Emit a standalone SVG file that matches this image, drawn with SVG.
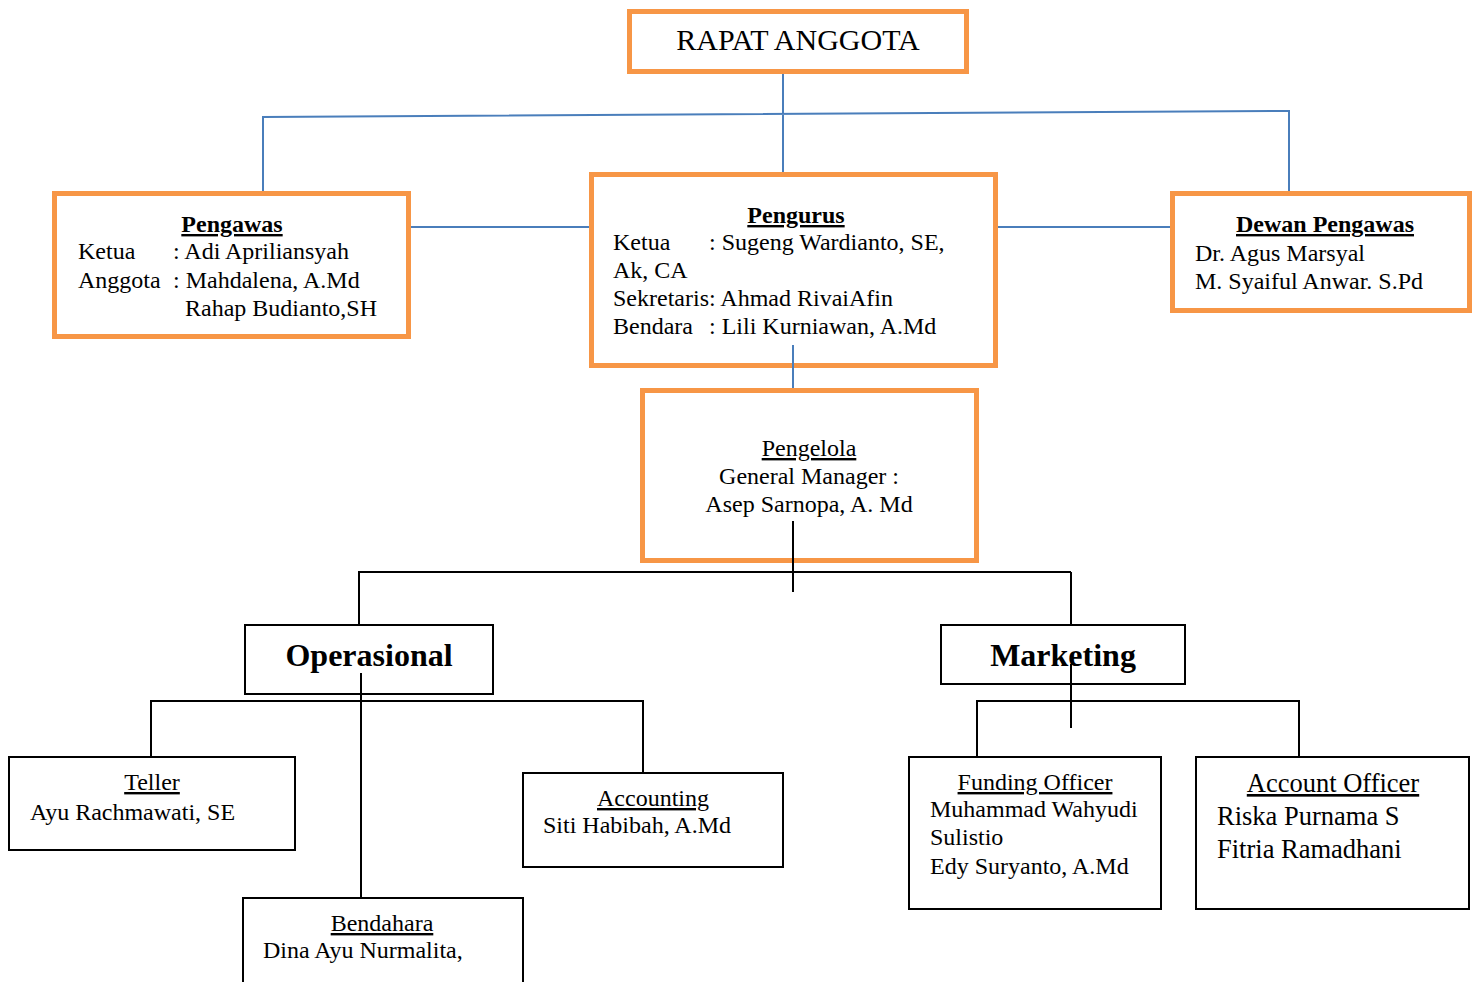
<svg xmlns="http://www.w3.org/2000/svg" width="1475" height="982" viewBox="0 0 1475 982">
<style>
text{font-family:"Liberation Serif","Times New Roman",serif;fill:#000;font-size:24px}
.ob{fill:#fff;stroke:#F79646;stroke-width:5}
.bb{fill:#fff;stroke:#000;stroke-width:2}
.bl{fill:none;stroke:#4A7EBB;stroke-width:2}
.k{fill:none;stroke:#000;stroke-width:2}
.c{text-anchor:middle}
.b{font-weight:bold}
.u{text-decoration:underline}
.big{font-size:32px;font-weight:bold}
.l{font-size:26.5px}
</style>
<g id="rapat">
<rect class="ob" x="629.5" y="11.5" width="337" height="60"/>
<text class="c" x="798" y="50" style="font-size:30px">RAPAT ANGGOTA</text>
</g>
<g id="pengawas">
<rect class="ob" x="54.5" y="193.5" width="354" height="143"/>
<text class="c b u" x="232" y="232">Pengawas</text>
<text x="78" y="259">Ketua</text><text x="173" y="259">: Adi Apriliansyah</text>
<text x="78" y="288">Anggota</text><text x="173" y="288">: Mahdalena, A.Md</text>
<text x="185" y="316">Rahap Budianto,SH</text>
</g>
<g id="pengurus">
<rect class="ob" x="591.5" y="174.5" width="404" height="191"/>
<text class="c b u" x="796" y="223">Pengurus</text>
<text x="613" y="250">Ketua</text><text x="709" y="250">: Sugeng Wardianto, SE,</text>
<text x="613" y="278">Ak, CA</text>
<text x="613" y="306">Sekretaris: Ahmad RivaiAfin</text>
<text x="613" y="334">Bendara</text><text x="709" y="334">: Lili Kurniawan, A.Md</text>
</g>
<g id="dewan">
<rect class="ob" x="1172.5" y="193.5" width="297" height="117"/>
<text class="c b u" x="1325" y="232">Dewan Pengawas</text>
<text x="1195" y="261">Dr. Agus Marsyal</text>
<text x="1195" y="289">M. Syaiful Anwar. S.Pd</text>
</g>
<g id="pengelola">
<rect class="ob" x="642.5" y="390.5" width="334" height="170"/>
<text class="c u" x="809" y="456">Pengelola</text>
<text class="c" x="809" y="484">General Manager :</text>
<text class="c" x="809" y="512">Asep Sarnopa, A. Md</text>
</g>
<g id="operasional">
<rect class="bb" x="245" y="625" width="248" height="69"/>
<text class="c big" x="369" y="666">Operasional</text>
</g>
<g id="marketing">
<rect class="bb" x="941" y="625" width="244" height="59"/>
<text class="c big" x="1063" y="666">Marketing</text>
</g>
<g id="teller">
<rect class="bb" x="9" y="757" width="286" height="93"/>
<text class="c u" x="152" y="790">Teller</text>
<text x="30" y="820">Ayu Rachmawati, SE</text>
</g>
<g id="accounting">
<rect class="bb" x="523" y="773" width="260" height="94"/>
<text class="c u" x="653" y="806">Accounting</text>
<text x="543" y="833">Siti Habibah, A.Md</text>
</g>
<g id="bendahara">
<rect class="bb" x="243" y="898" width="280" height="100"/>
<text class="c u" x="382" y="931">Bendahara</text>
<text x="263" y="958">Dina Ayu Nurmalita,</text>
</g>
<g id="funding">
<rect class="bb" x="909" y="757" width="252" height="152"/>
<text class="c u" x="1035" y="790">Funding Officer</text>
<text x="930" y="817">Muhammad Wahyudi</text>
<text x="930" y="845">Sulistio</text>
<text x="930" y="874">Edy Suryanto, A.Md</text>
</g>
<g id="account">
<rect class="bb" x="1196" y="757" width="273" height="152"/>
<text class="c u l" x="1333" y="792">Account Officer</text>
<text class="l" x="1217" y="825">Riska Purnama S</text>
<text class="l" x="1217" y="858">Fitria Ramadhani</text>
</g>
<g id="connectors">
<path class="bl" d="M783 74V172M263 191V117L1289 111V191M411 227H589M998 227H1170M793 345V388"/>
<path class="k" d="M793 521V592M358 572H1071M359 572V625M1071 572V625M1071 664V728M361 673V898M151 757V701H643V773M977 757V701H1299V757"/>
</g>
</svg>
